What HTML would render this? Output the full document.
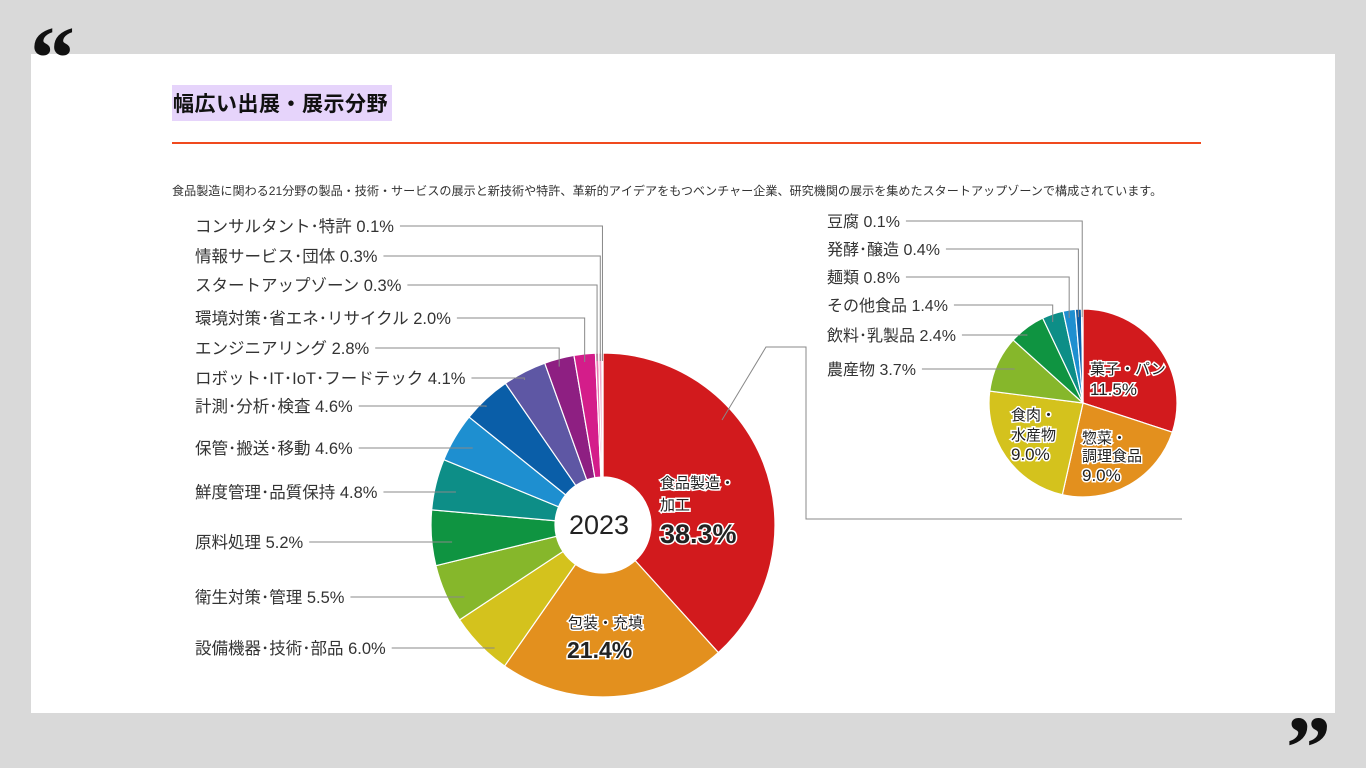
<!DOCTYPE html>
<html><head><meta charset="utf-8"><style>
html,body{margin:0;width:1366px;height:768px;overflow:hidden}
body{background:#d9d9d9;font-family:"Liberation Sans","Noto Sans CJK JP",sans-serif;position:relative}
.card{position:absolute;left:31px;top:54px;width:1304px;height:659px;background:#fff}
.q{position:absolute;font-family:"Liberation Serif",serif;font-weight:bold;font-size:90px;color:#111;line-height:1}
h1{position:absolute;left:172px;top:85px;margin:0;font-size:21px;font-weight:bold;background:#e6d4fb;padding:3px 4px 3px 1px;color:#111;font-family:"Liberation Sans","Noto Sans CJK JP",sans-serif;letter-spacing:0.5px}
.rule{position:absolute;left:172px;top:142px;width:1029px;height:2px;background:#f04a1e}
.desc{position:absolute;left:172px;top:182px;font-size:12.1px;color:#333;white-space:nowrap}
svg{position:absolute;left:0;top:0}
</style></head><body>
<div class="card"></div>
<div class="q" style="left:30px;top:14px">&#8220;</div>
<div class="q" style="left:1286px;top:704px">&#8221;</div>
<h1>幅広い出展・展示分野</h1>
<div class="rule"></div>
<div class="desc">食品製造に関わる21分野の製品・技術・サービスの展示と新技術や特許、革新的アイデアをもつベンチャー企業、研究機関の展示を集めたスタートアップゾーンで構成されています。</div>
<svg id="chart" width="1366" height="768"></svg>
<script>
const mainCats=["食品製造・加工","包装・充填","設備機器･技術･部品","衛生対策･管理","原料処理","鮮度管理･品質保持","保管･搬送･移動","計測･分析･検査","ロボット･IT･IoT･フードテック","エンジニアリング","環境対策･省エネ･リサイクル","スタートアップゾーン","情報サービス･団体","コンサルタント･特許"];
const mainVals=[38.3,21.4,6.0,5.5,5.2,4.8,4.6,4.6,4.1,2.8,2.0,0.3,0.3,0.1];
const mainColors=["#d21a1d","#e3901e","#d4c21d","#86b72b","#0f9441","#0d8e87","#1e8fd0","#0a5ea8","#5e57a4","#8e1f82","#d41d8a","#e97ab3","#f0a8c8","#f6cfe0"];
const mainLabelY=[0,0,648,597,542,492,448,406,378,348,318,285,256,226];
const subCats=["菓子・パン","惣菜・調理食品","食肉・水産物","農産物","飲料･乳製品","その他食品","麺類","発酵･醸造","豆腐"];
const subVals=[11.5,9.0,9.0,3.7,2.4,1.4,0.8,0.4,0.1];
const subColors=["#d21a1d","#e3901e","#d4c21d","#86b72b","#0f9441","#0d8e87","#1e8fd0","#0a5ea8","#5e57a4"];
const subLabelY=[0,0,0,369,335,305,277,249,221];
const NS="http://www.w3.org/2000/svg";
const svg=document.getElementById("chart");
function el(t,a,p){const e=document.createElementNS(NS,t);for(const k in a)e.setAttribute(k,a[k]);(p||svg).appendChild(e);return e;}
function pt(cx,cy,r,a){return[cx+r*Math.sin(a),cy-r*Math.cos(a)];}
function arc(cx,cy,r,ri,a0,a1){const l=a1-a0>Math.PI?1:0;const[x0,y0]=pt(cx,cy,r,a0),[x1,y1]=pt(cx,cy,r,a1);
 if(ri>0){const[x2,y2]=pt(cx,cy,ri,a1),[x3,y3]=pt(cx,cy,ri,a0);return `M${x0},${y0}A${r},${r} 0 ${l} 1 ${x1},${y1}L${x2},${y2}A${ri},${ri} 0 ${l} 0 ${x3},${y3}Z`;}
 return `M${cx},${cy}L${x0},${y0}A${r},${r} 0 ${l} 1 ${x1},${y1}Z`;}
function pie(vals,colors,cats,labelY,cx,cy,R,ri,labelX,fs,name,ar){
 const tot=vals.reduce((a,b)=>a+b,0);let a=0;const mids=[];
 vals.forEach((v,i)=>{const a1=a+v/tot*2*Math.PI;
  const p=el("path",{d:arc(cx,cy,R,ri,a,a1),fill:colors[i],stroke:"#fff","stroke-width":1.2});
  
  
  mids.push((a+a1)/2);a=a1;});
 vals.forEach((v,i)=>{if(!labelY[i])return;
  const t=el("text",{x:labelX,y:labelY[i]+6,"font-size":fs,fill:"#333"});t.textContent=cats[i]+" "+v.toFixed(1)+"%";
  
  
  const w=t.getComputedTextLength();
  let[ax,ay]=pt(cx,cy,R*ar,mids[i]);
  let ly=labelY[i];
  let d;
  if(ay>ly+4){const[tx,ty]=pt(cx,cy,R,mids[i]);d=`M${labelX+w+6},${ly}H${tx}V${ty+8}`;}
  else d=`M${labelX+w+6},${ly}H${ax}`;
  const ln=el("path",{d:d,fill:"none",stroke:"#888","stroke-width":1});
  
  
 });
 return mids;}
pie(mainVals,mainColors,mainCats,mainLabelY,603,525,172,48,195,16.5,'main',0.88);
pie(subVals,subColors,subCats,subLabelY,1083,403,94,0,827,16,'food',0.8);
const c=el("circle",{cx:603,cy:525,r:48,fill:"#fff"});


function lab(x,y,s,fs,w,n){const t=el("text",{x:x,y:y,"font-size":fs,fill:"#222","font-weight":w||"normal",stroke:"#fff","stroke-width":3,"paint-order":"stroke"});t.textContent=s;
 
 }
lab(569,534,"2023",27,"normal","center-year");
lab(660,488,"食品製造・",15,"normal","food-label");lab(660,510,"加工",15,"normal","food-label-2");
lab(660,543,mainVals[0].toFixed(1)+"%",27,"bold","food-value");
lab(568,628,"包装・充填",15,"normal","pack-label");lab(567,658,mainVals[1].toFixed(1)+"%",23,"bold","pack-value");
lab(1090,374,"菓子・パン",15,"normal","sweets-label");lab(1090,395,subVals[0].toFixed(1)+"%",17,"normal","sweets-value");
lab(1082,443,"惣菜・",15,"normal","deli-label");lab(1082,461,"調理食品",15,"normal","deli-label-2");lab(1082,481,subVals[1].toFixed(1)+"%",17,"normal","deli-value");
lab(1011,420,"食肉・",15,"normal","meat-label");lab(1011,440,"水産物",15,"normal","meat-label-2");lab(1011,460,subVals[2].toFixed(1)+"%",17,"normal","meat-value");
const cn=el("path",{d:"M722,420L766,347H806V519H1182",fill:"none",stroke:"#888","stroke-width":1});


</script>
</body></html>
